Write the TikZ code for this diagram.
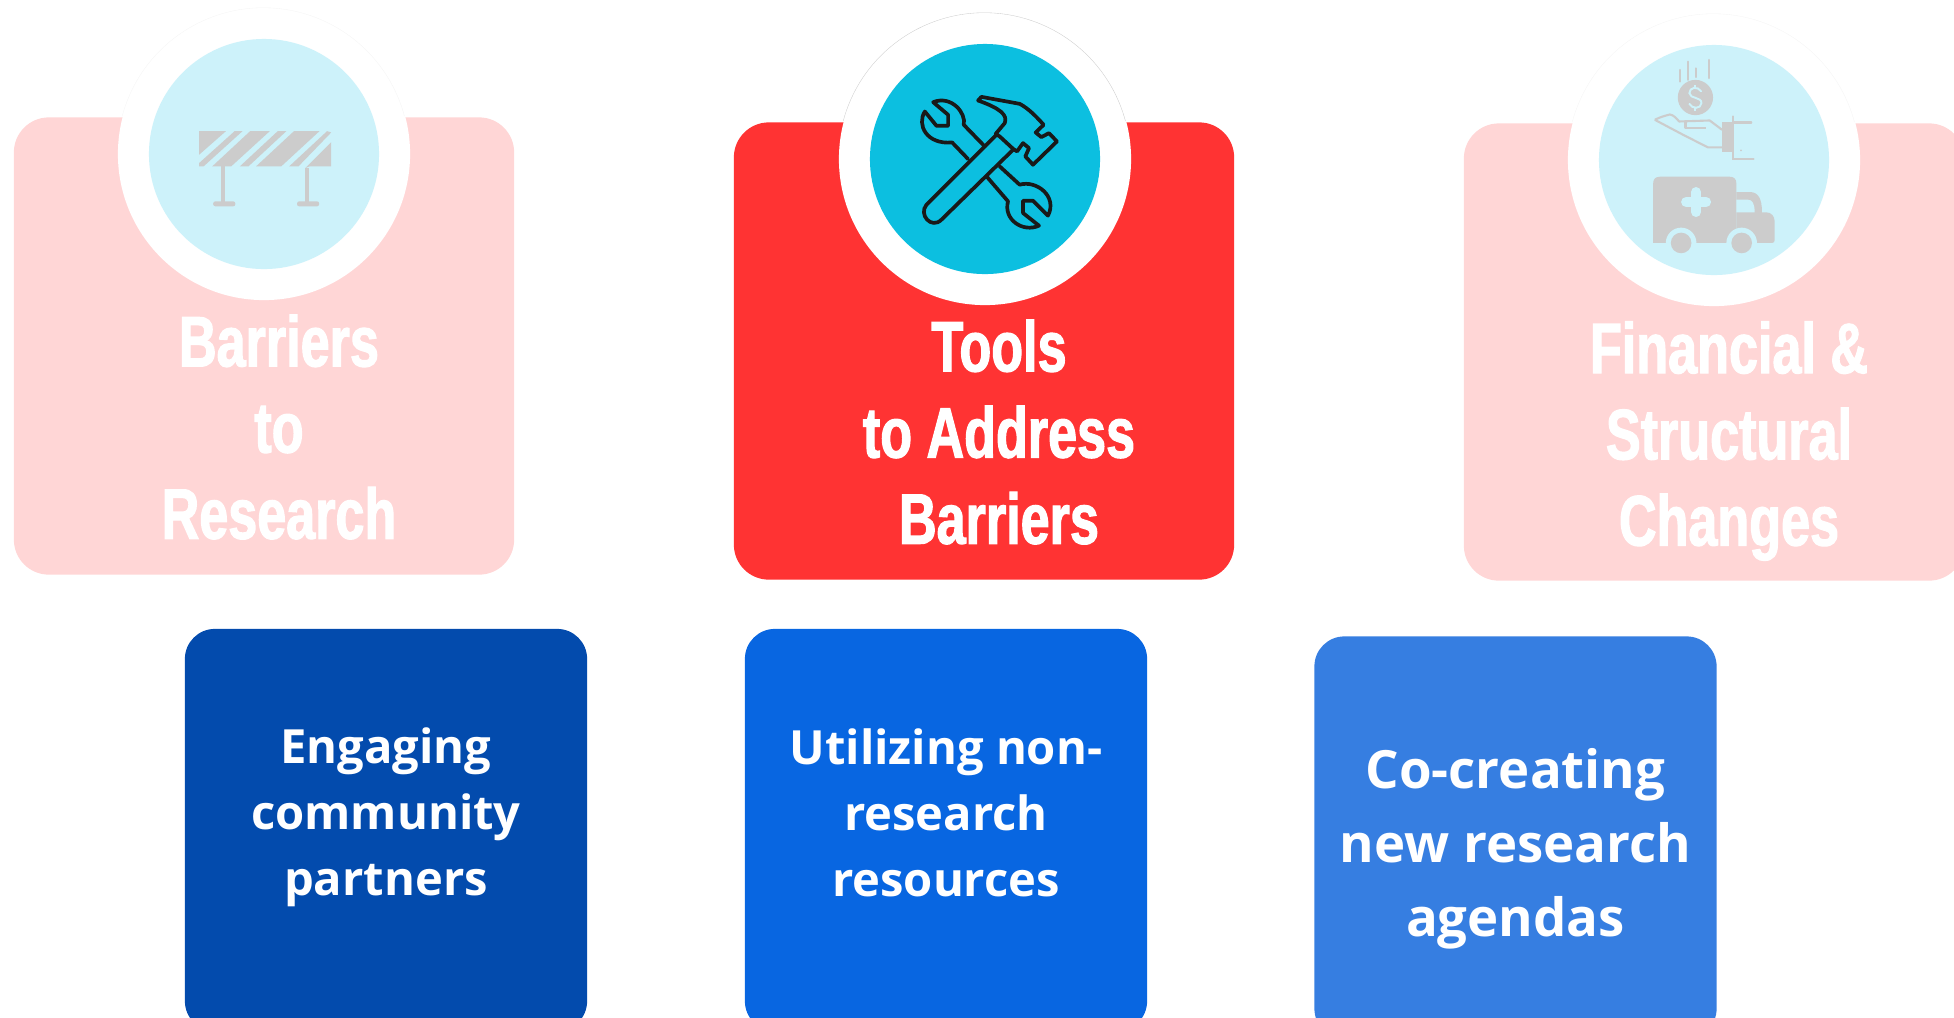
\documentclass[tikz,border=0pt]{standalone}
\usepackage{fontspec}
\newfontfamily\headfont{Liberation Sans}[FakeStretch=0.73,FakeBold=1.6]
\newfontfamily\bodyfont{Open Sans}
\definecolor{palered}{HTML}{FFD6D6}
\definecolor{strongred}{HTML}{FF3333}
\definecolor{palecyan}{HTML}{CDF2FA}
\definecolor{strongcyan}{HTML}{0CBFE0}
\definecolor{icongray}{HTML}{CCCCCC}
\definecolor{darkblue}{HTML}{034BAD}
\definecolor{midblue}{HTML}{0866E1}
\definecolor{lightblue}{HTML}{367EE1}
\tikzset{
    panel/.style={rounded corners=0.35cm,inner sep=0,minimum width=5cm,minimum height=4.57cm},
    ring/.style={circle,fill=white,inner sep=0,minimum size=2.92cm},
    disc/.style={circle,inner sep=0,minimum size=2.3cm},
    headtext/.style={text=white,align=center,inner sep=0,font=\headfont\bfseries\fontsize{20.3}{24.5}\selectfont},
    tile/.style={rounded corners=0.3cm,inner sep=0,minimum width=4.02cm,minimum height=4.02cm},
    tiletext/.style={text=white,align=center,inner sep=0,font=\bodyfont\bfseries\fontsize{13.4}{18.8}\selectfont},
    bigtiletext/.style={text=white,align=center,inner sep=0,font=\bodyfont\bfseries\fontsize{15}{21.1}\selectfont}
}
\begin{document}
\begin{tikzpicture}[x=0.01cm,y=-0.01cm]
    \useasboundingbox (0,0) rectangle (1954,1017);

    \node[panel,fill=palered] (barrierbox) at (264,346) {};
    \node[panel,fill=strongred] (toolbox) at (984,351) {};
    \node[panel,fill=palered] (changebox) at (1714,352) {};

    \node[ring] (barrierring) at (264,154) {};
    \node[ring] (toolring) at (985,159) {};
    \node[ring] (changering) at (1714,160) {};
    \draw[black!4,line width=0.1pt] (barrierring.165) arc (165:15:1.46cm);
    \draw[black!20,line width=0.1pt] (toolring.165) arc (165:15:1.46cm);
    \draw[black!4,line width=0.1pt] (changering.165) arc (165:15:1.46cm);
    \node[disc,fill=palecyan] (barrierdisc) at (264,154) {};
    \node[disc,fill=strongcyan] (tooldisc) at (985,159) {};
    \node[disc,fill=palecyan] (changedisc) at (1714,160) {};

    \begin{scope}[x=0.003444cm,y=-0.003333cm,icongray]
        \fill (577,465) -- (577,394) -- (655,394) -- cycle;
        \fill (577,490) -- (680,394) -- (703,394) -- (590,500) -- (577,500) -- cycle;
        \fill (615,500) -- (725,394) -- (782,394) -- (670,500) -- cycle;
        \fill (695,500) -- (805,394) -- (830,394) -- (720,500) -- cycle;
        \fill (742,500) -- (852,394) -- (926,394) -- (815,500) -- cycle;
        \fill (838,500) -- (948,394) -- (960,398) -- (865,500) -- cycle;
        \fill (885,505) -- (960,427) -- (960,500) -- (897,500) -- cycle;
        \fill (640,500) rectangle (653,606);
        \fill (884,505) rectangle (897,606);
        \fill[rounded corners=0.6pt] (618,605) rectangle (682,620);
        \fill[rounded corners=0.6pt] (861,605) rectangle (925,620);
    \end{scope}

    \begin{scope}[shift={(820,0)},x=0.003333cm,y=-0.003333cm,line width=1.05pt,line join=round,line cap=round,draw=black!90]
        \draw (495,440) -- (432,375) .. controls (440,340) and (395,285) .. (340,307) -- (385,345) -- (385,378) -- (350,378) -- (315,335) .. controls (290,375) and (320,435) .. (397,428) -- (445,478);
        \draw (540,500) -- (600,555) .. controls (650,540) and (715,590) .. (685,648) -- (640,603) -- (610,603) -- (610,640) -- (658,678) .. controls (610,700) and (550,660) .. (565,605) -- (503,533);
        \draw (530,405) -- (320,615) .. controls (295,645) and (335,690) .. (365,660) -- (580,450);
        \draw (528,402) -- (555,370) .. controls (565,345) and (540,325) .. (475,302) -- (485,291) -- (600,312) .. controls (625,325) and (650,350) .. (672,375) -- (648,398) -- (665,412) -- (688,400) -- (712,425) -- (640,495) -- (617,470) -- (628,445) -- (610,430) -- (592,455) -- (580,447) -- (540,410) -- cycle;
    \end{scope}

    \begin{scope}[shift={(1540,0)},x=0.003333cm,y=-0.003333cm,icongray]
        \fill (467,293) circle (53);
        \draw[palecyan,line width=0.55pt,line cap=round] (484,274) .. controls (474,258) and (448,262) .. (449,280) .. controls (450,298) and (486,290) .. (485,310) .. controls (484,328) and (456,328) .. (449,312);
        \draw[palecyan,line width=0.55pt] (467,256) -- (467,264) (467,324) -- (467,332);
        \foreach \lx/\ltop/\lbot in {421/210/245,445/185/240,470/205/232,508/180/235}
            \draw[line width=0.55pt,line cap=round] (\lx,\ltop) -- (\lx,\lbot);
        \draw[line width=0.6pt,line join=round] (345,360) .. controls (360,352) and (375,348) .. (390,344) .. controls (400,345) and (410,355) .. (418,365) -- (510,362) -- (547,390);
        \draw[line width=0.6pt,line join=round] (345,360) -- (430,405) -- (505,443) -- (547,443);
        \draw[line width=0.6pt,line join=round] (437,365) -- (437,385) -- (498,385);
        \fill (547,367) rectangle (580,458);
        \draw[line width=0.6pt,line cap=round] (635,368) -- (580,368) (580,350) -- (580,478) -- (642,478);
        \fill (604,452) circle (3);
        \fill (340,730) -- (340,551) .. controls (340,538) and (347,531) .. (360,531) -- (570,531) .. controls (583,531) and (590,538) .. (590,551) -- (590,730) -- cycle;
        \fill (590,730) -- (590,577) -- (630,577) .. controls (655,577) and (667,595) .. (667,638) -- (680,638) .. controls (695,638) and (705,650) .. (705,665) -- (705,722) .. controls (705,727) and (702,730) .. (697,730) -- cycle;
        \fill[palecyan] (590,638) -- (590,600) -- (625,600) .. controls (638,600) and (645,612) .. (645,638) -- cycle;
        \draw[palecyan,line width=2.85pt,line cap=round] (469,577) -- (469,637) (439,607) -- (499,607);
        \fill[palecyan] (424,730) circle (46) (606,730) circle (46);
        \fill (424,730) circle (31) (606,730) circle (31);
    \end{scope}

    \node[headtext] (barriertext) at (279,427) {Barriers\\to\\Research};
    \node[headtext] (tooltext) at (999,432) {Tools\\to Address\\Barriers};
    \node[headtext] (changetext) at (1729,441) {Financial \&\\Structural\\Changes};

    \node[tile,fill=darkblue] (engagebox) at (386,830) {};
    \node[tile,fill=midblue] (utilizebox) at (946,830) {};
    \node[tile,fill=lightblue] (cocreatebox) at (1515.5,837.5) {};

    \node[tiletext] (engagetext) at (386,817.5) {Engaging\\community\\partners};
    \node[tiletext] (utilizetext) at (946,812.5) {Utilizing non-\\research\\resources};
    \node[bigtiletext] (cocreatetext) at (1515.5,848.5) {Co-creating\\new research\\agendas};
\end{tikzpicture}
\end{document}
